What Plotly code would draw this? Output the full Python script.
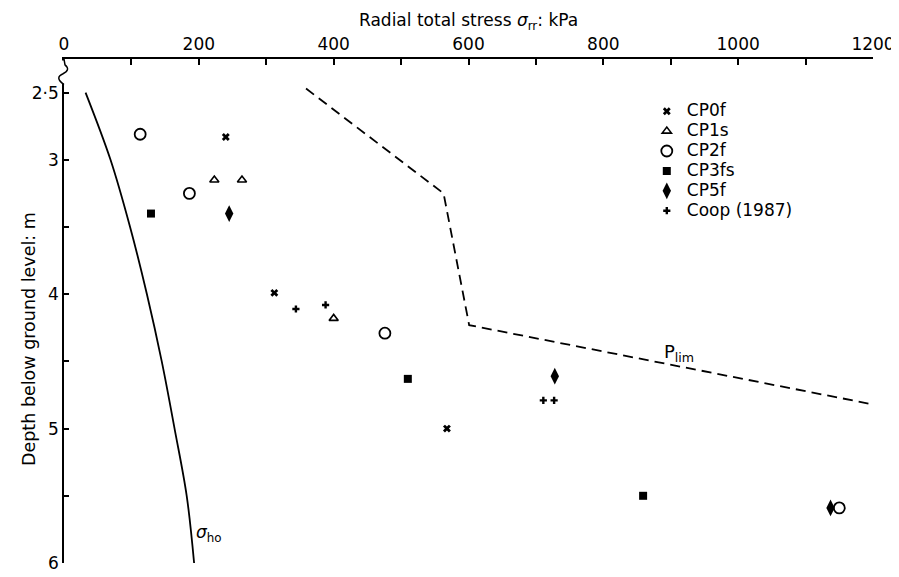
import plotly.graph_objects as go

# ---------------- data ----------------
cp0f_kpa = [240, 312, 568]
cp0f_depth = [2.83, 3.99, 5.00]

cp1s_kpa = [223, 264, 400]
cp1s_depth = [3.15, 3.15, 4.18]

cp2f_kpa = [113, 186, 476, 1150]
cp2f_depth = [2.81, 3.25, 4.29, 5.59]

cp3fs_kpa = [129, 510, 859]
cp3fs_depth = [3.40, 4.63, 5.50]

cp5f_kpa = [245, 728, 1137]
cp5f_depth = [3.40, 4.61, 5.59]

coop_kpa = [344, 388, 711, 727]
coop_depth = [4.11, 4.08, 4.79, 4.79]

sigma_ho_kpa = [32, 69, 98, 123, 145, 164, 182, 193]
sigma_ho_depth = [2.5, 3.0, 3.5, 4.0, 4.5, 5.0, 5.5, 6.0]

plim_kpa = [359, 563, 601, 1200]
plim_depth = [2.47, 3.25, 4.23, 4.82]

series_names = ["CP0f", "CP1s", "CP2f", "CP3fs", "CP5f", "Coop (1987)"]

x_tickvals = list(range(0, 1300, 100))
x_ticktext = [str(v) if v % 200 == 0 else "" for v in x_tickvals]
y_tickvals = [2.5, 3, 3.5, 4, 4.5, 5, 5.5, 6]
y_ticktext = ["2·5", "3", "", "4", "", "5", "", "6"]

FONT = "DejaVu Sans, Liberation Sans, Arial, sans-serif"
BLACK = "black"


def leg(name):
    return f'<span style="font-size:17px">{name}</span>'


# ---------------- figure ----------------
fig = go.Figure()

fig.add_trace(go.Scatter(x=sigma_ho_kpa, y=sigma_ho_depth, mode="lines",
                         line=dict(color=BLACK, width=1.8, shape="spline"),
                         showlegend=False, hoverinfo="skip"))
fig.add_trace(go.Scatter(x=plim_kpa, y=plim_depth, mode="lines",
                         line=dict(color=BLACK, width=1.8, dash="10px,6px"),
                         showlegend=False, hoverinfo="skip"))

fig.add_trace(go.Scatter(x=cp0f_kpa, y=cp0f_depth, mode="markers", name=leg(series_names[0]),
                         marker=dict(symbol="x", size=7, color=BLACK, line=dict(width=0))))
fig.add_trace(go.Scatter(x=cp1s_kpa, y=cp1s_depth, mode="markers", name=leg(series_names[1]),
                         marker=dict(symbol="triangle-up-open", size=8, color=BLACK,
                                     line=dict(width=1.6, color=BLACK))))
fig.add_trace(go.Scatter(x=cp2f_kpa, y=cp2f_depth, mode="markers", name=leg(series_names[2]),
                         marker=dict(symbol="circle-open", size=11, color=BLACK,
                                     line=dict(width=1.8, color=BLACK))))
fig.add_trace(go.Scatter(x=cp3fs_kpa, y=cp3fs_depth, mode="markers", name=leg(series_names[3]),
                         marker=dict(symbol="square", size=8, color=BLACK)))
fig.add_trace(go.Scatter(x=cp5f_kpa, y=cp5f_depth, mode="markers", name=leg(series_names[4]),
                         marker=dict(symbol="diamond-tall", size=12, color=BLACK)))
fig.add_trace(go.Scatter(x=coop_kpa, y=coop_depth, mode="markers", name=leg(series_names[5]),
                         marker=dict(symbol="cross", size=6, color=BLACK)))

# plot area in pixels
L, R, T, B = 56, 24, 51, 12
W, H = 899, 577
PW, PH = W - L - R, H - T - B


def px(xp, yp):
    """absolute pixel -> paper coords (for axis decoration only)"""
    return (xp - L) / PW, 1 - (yp - T) / PH


def pt(xp, yp):
    a, b = px(xp, yp)
    return f"{a:.5f},{b:.5f}"


squiggle = (f"M {pt(56,51)} L {pt(57,57)} Q {pt(63,62)} {pt(55,66)} "
            f"Q {pt(46,70)} {pt(56,77)}")

fig.update_layout(
    width=W, height=H,
    margin=dict(l=L, r=R, t=T, b=B),
    paper_bgcolor="white", plot_bgcolor="white",
    font=dict(family=FONT, color=BLACK, size=17),
    xaxis=dict(side="top", range=[0, 1200], showgrid=False, zeroline=False,
               showline=True, linecolor=BLACK, linewidth=1.5,
               ticks="inside", ticklen=6, tickwidth=1.5, tickcolor=BLACK,
               tickvals=x_tickvals, ticktext=x_ticktext,
               tickfont=dict(size=17, family=FONT, color=BLACK)),
    yaxis=dict(range=[6, 2.25], showgrid=False, zeroline=False,
               showline=True, linecolor=BLACK, linewidth=1.5,
               ticks="inside", ticklen=5, tickwidth=1.5, tickcolor=BLACK,
               tickvals=y_tickvals, ticktext=y_ticktext,
               tickfont=dict(size=17, family=FONT, color=BLACK)),
    legend=dict(x=px(646, 0)[0], y=px(0, 89)[1], xanchor="left", yanchor="top",
                font=dict(size=13, family=FONT, color=BLACK),
                bgcolor="rgba(0,0,0,0)", tracegroupgap=0),
    shapes=[
        # white patch hiding the axis line where the break symbol goes
        dict(type="rect", xref="paper", yref="paper", layer="above",
             x0=px(53, 0)[0], x1=px(59, 0)[0], y0=px(0, 52.5)[1], y1=px(0, 76)[1],
             fillcolor="white", line=dict(width=0)),
        dict(type="path", xref="paper", yref="paper", path=squiggle, layer="above",
             line=dict(color=BLACK, width=1.5)),
    ],
    annotations=[
        dict(text="Radial total stress <i>σ</i><sub>rr</sub>: kPa",
             xref="paper", yref="paper", x=0.5, y=px(0, 13)[1],
             xanchor="center", yanchor="middle", showarrow=False,
             font=dict(size=17, family=FONT, color=BLACK)),
        dict(text="Depth below ground level: m", textangle=-90,
             xref="paper", yref="y", x=px(20, 0)[0], y=4.33,
             xanchor="center", yanchor="middle", showarrow=False,
             font=dict(size=17.5, family=FONT, color=BLACK)),
        dict(text="<i>σ</i><sub>ho</sub>", xref="x", yref="y", x=193, y=5.78,
             xanchor="left", yanchor="middle", showarrow=False,
             font=dict(size=17, family=FONT, color=BLACK)),
        dict(text="P<sub>lim</sub>", xref="x", yref="y", x=887, y=4.44,
             xanchor="left", yanchor="middle", showarrow=False,
             font=dict(size=18, family=FONT, color=BLACK)),
    ],
)

fig.write_html("out.html")
